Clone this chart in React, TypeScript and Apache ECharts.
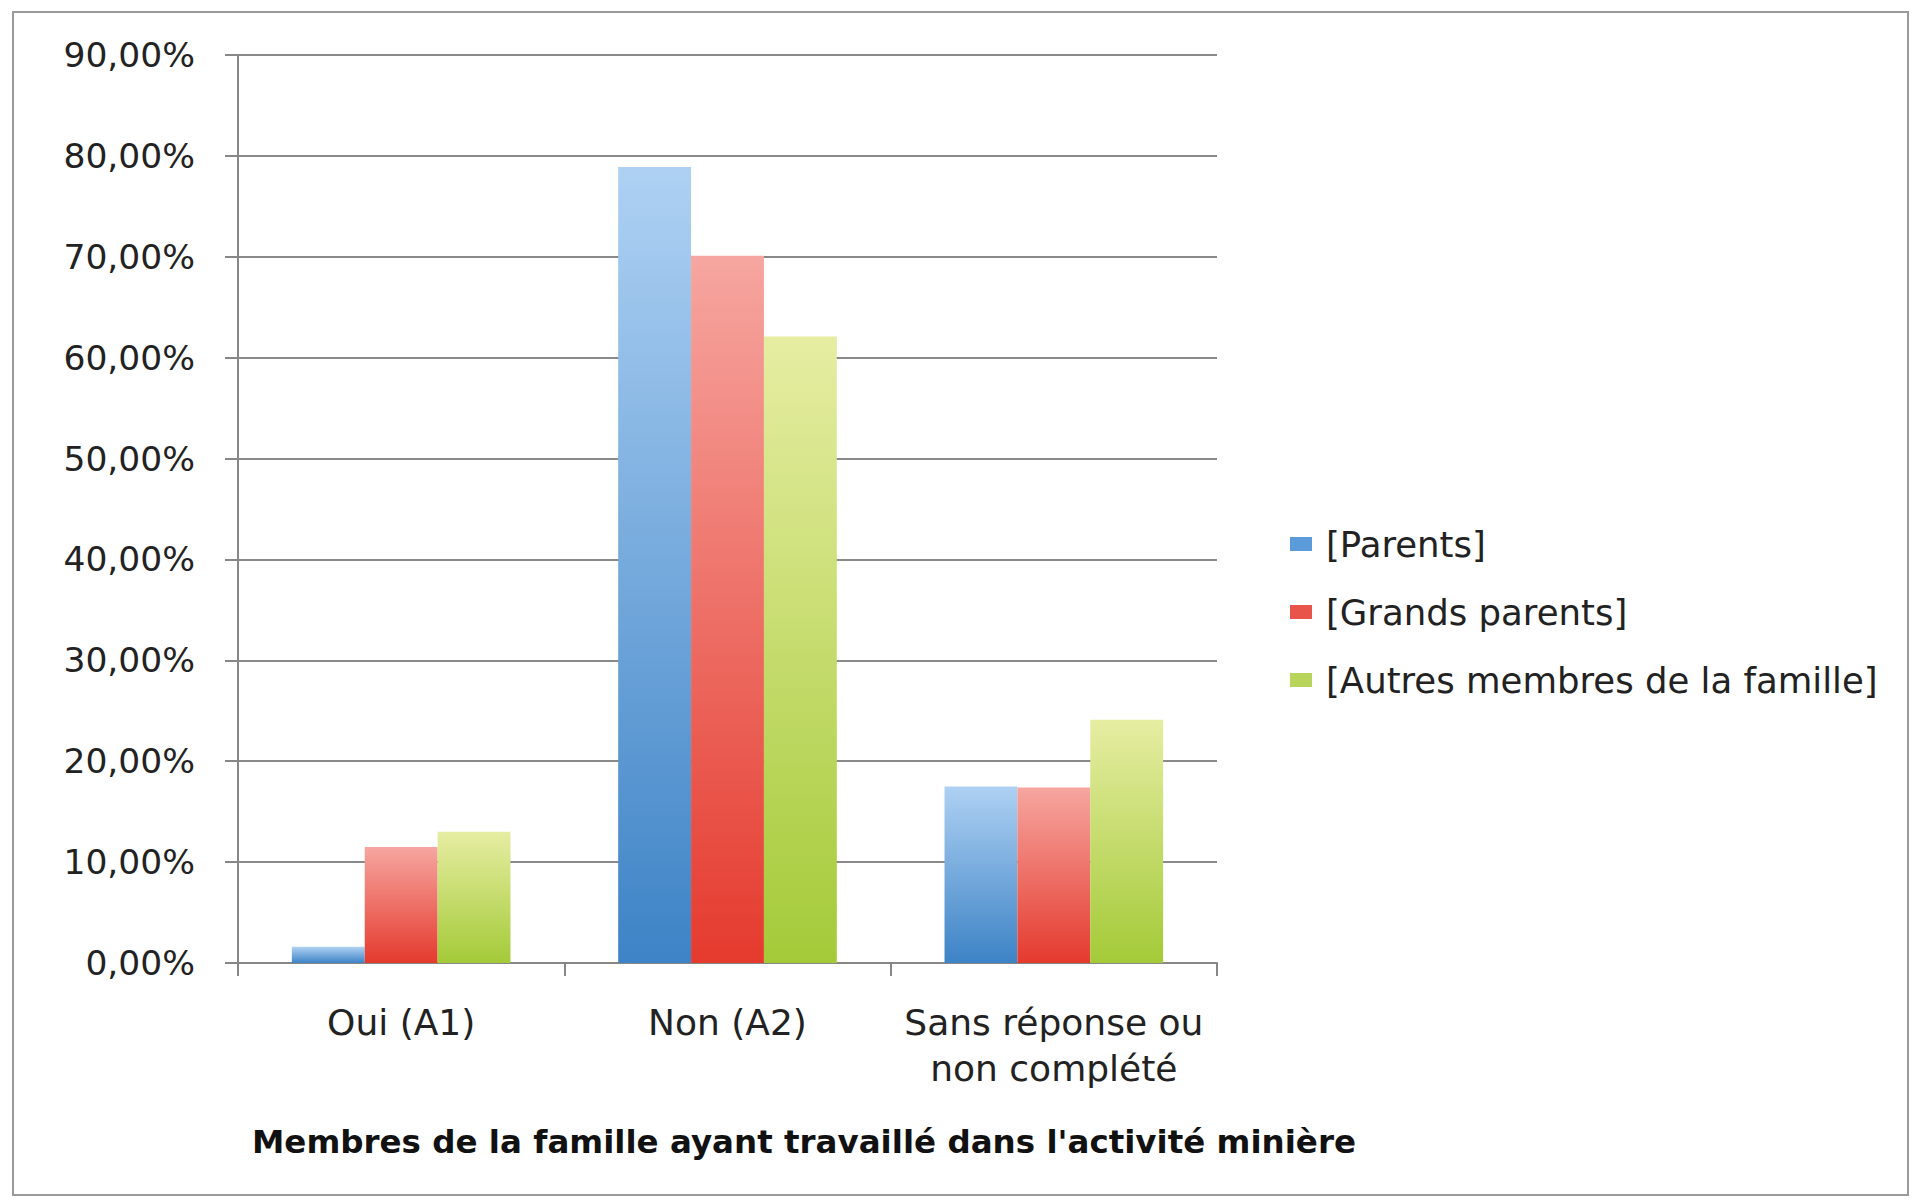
import React, { useEffect, useRef } from "react";
import * as echarts from "echarts";

const categories = ["Oui (A1)", "Non (A2)", "Sans réponse ou\nnon complété"];
const seriesNames = ["[Parents]", "[Grands parents]", "[Autres membres de la famille]"];
const parents = [1.6, 78.9, 17.5];
const grandsParents = [11.5, 70.1, 17.4];
const autres = [13.0, 62.1, 24.1];
const yTickLabels = ["0,00%", "10,00%", "20,00%", "30,00%", "40,00%", "50,00%", "60,00%", "70,00%", "80,00%", "90,00%"];
const axisTitle = "Membres de la famille ayant travaillé dans l'activité minière";

const FONT = "DejaVu Sans";

const grad = (top: string, bottom: string) =>
  new echarts.graphic.LinearGradient(0, 0, 0, 1, [
    { offset: 0, color: top },
    { offset: 1, color: bottom },
  ]);

export default function App() {
  const ref = useRef<HTMLDivElement>(null);
  useEffect(() => {
    document.body.style.margin = "0";
    if (!ref.current) return;
    const chart = echarts.init(ref.current, null, { renderer: "svg" });
    const colors = [
      grad("#aed1f3", "#3d83c6"),
      grad("#f6a6a0", "#e53a2e"),
      grad("#e6eda2", "#a4ca38"),
    ];
    const legendColors = ["#5b9bd9", "#e8534a", "#b9d45a"];
    const data = [parents, grandsParents, autres];
    chart.setOption({
      animation: false,
      backgroundColor: "#ffffff",
      textStyle: { fontFamily: FONT },
      title: {
        text: axisTitle,
        left: 252,
        top: 1122,
        padding: 0,
        textStyle: { fontFamily: FONT, fontSize: 32.5, fontWeight: "bold", color: "#111", lineHeight: 40 },
      },
      legend: {
        orient: "vertical",
        left: 1290,
        top: 524,
        padding: 0,
        itemWidth: 22,
        itemHeight: 14,
        itemGap: 28,
        icon: "rect",
        textStyle: { fontFamily: FONT, fontSize: 35.5, color: "#222", lineHeight: 40, padding: [0, 0, 0, 9] },
        data: seriesNames.map((n, i) => ({ name: n, itemStyle: { color: legendColors[i] } })),
      },
      grid: { left: 238, right: 695, top: 55, bottom: 237, containLabel: false },
      xAxis: {
        type: "category",
        data: categories,
        axisLine: { show: true, lineStyle: { color: "#878787", width: 2 } },
        axisTick: { show: true, length: 13, lineStyle: { color: "#878787", width: 2 } },
        axisLabel: { fontFamily: FONT, fontSize: 36, color: "#222", margin: 36, lineHeight: 46, interval: 0 },
      },
      yAxis: {
        type: "value",
        min: 0,
        max: 90,
        interval: 10,
        axisLine: { show: true, lineStyle: { color: "#878787", width: 2 } },
        axisTick: { show: true, length: 13, lineStyle: { color: "#878787", width: 2 } },
        splitLine: { show: true, lineStyle: { color: "#8a8a8a", width: 2 } },
        axisLabel: {
          fontFamily: FONT,
          fontSize: 34.5,
          color: "#222",
          margin: 43,
          formatter: (v: number) => yTickLabels[Math.round(v / 10)] ?? "",
        },
      },
      series: data.map((d, i) => ({
        name: seriesNames[i],
        type: "bar",
        data: d,
        barGap: "0%",
        barCategoryGap: "33%",
        itemStyle: { color: colors[i] },
      })),
      graphic: [
        {
          type: "rect",
          shape: { x: 13, y: 12, width: 1895, height: 1183 },
          style: { fill: "none", stroke: "#9a9a9a", lineWidth: 2 },
          silent: true,
          z: -1,
        },
      ],
    });
    return () => chart.dispose();
  }, []);
  return <div ref={ref} style={{ width: 1912, height: 1200 }} />;
}
